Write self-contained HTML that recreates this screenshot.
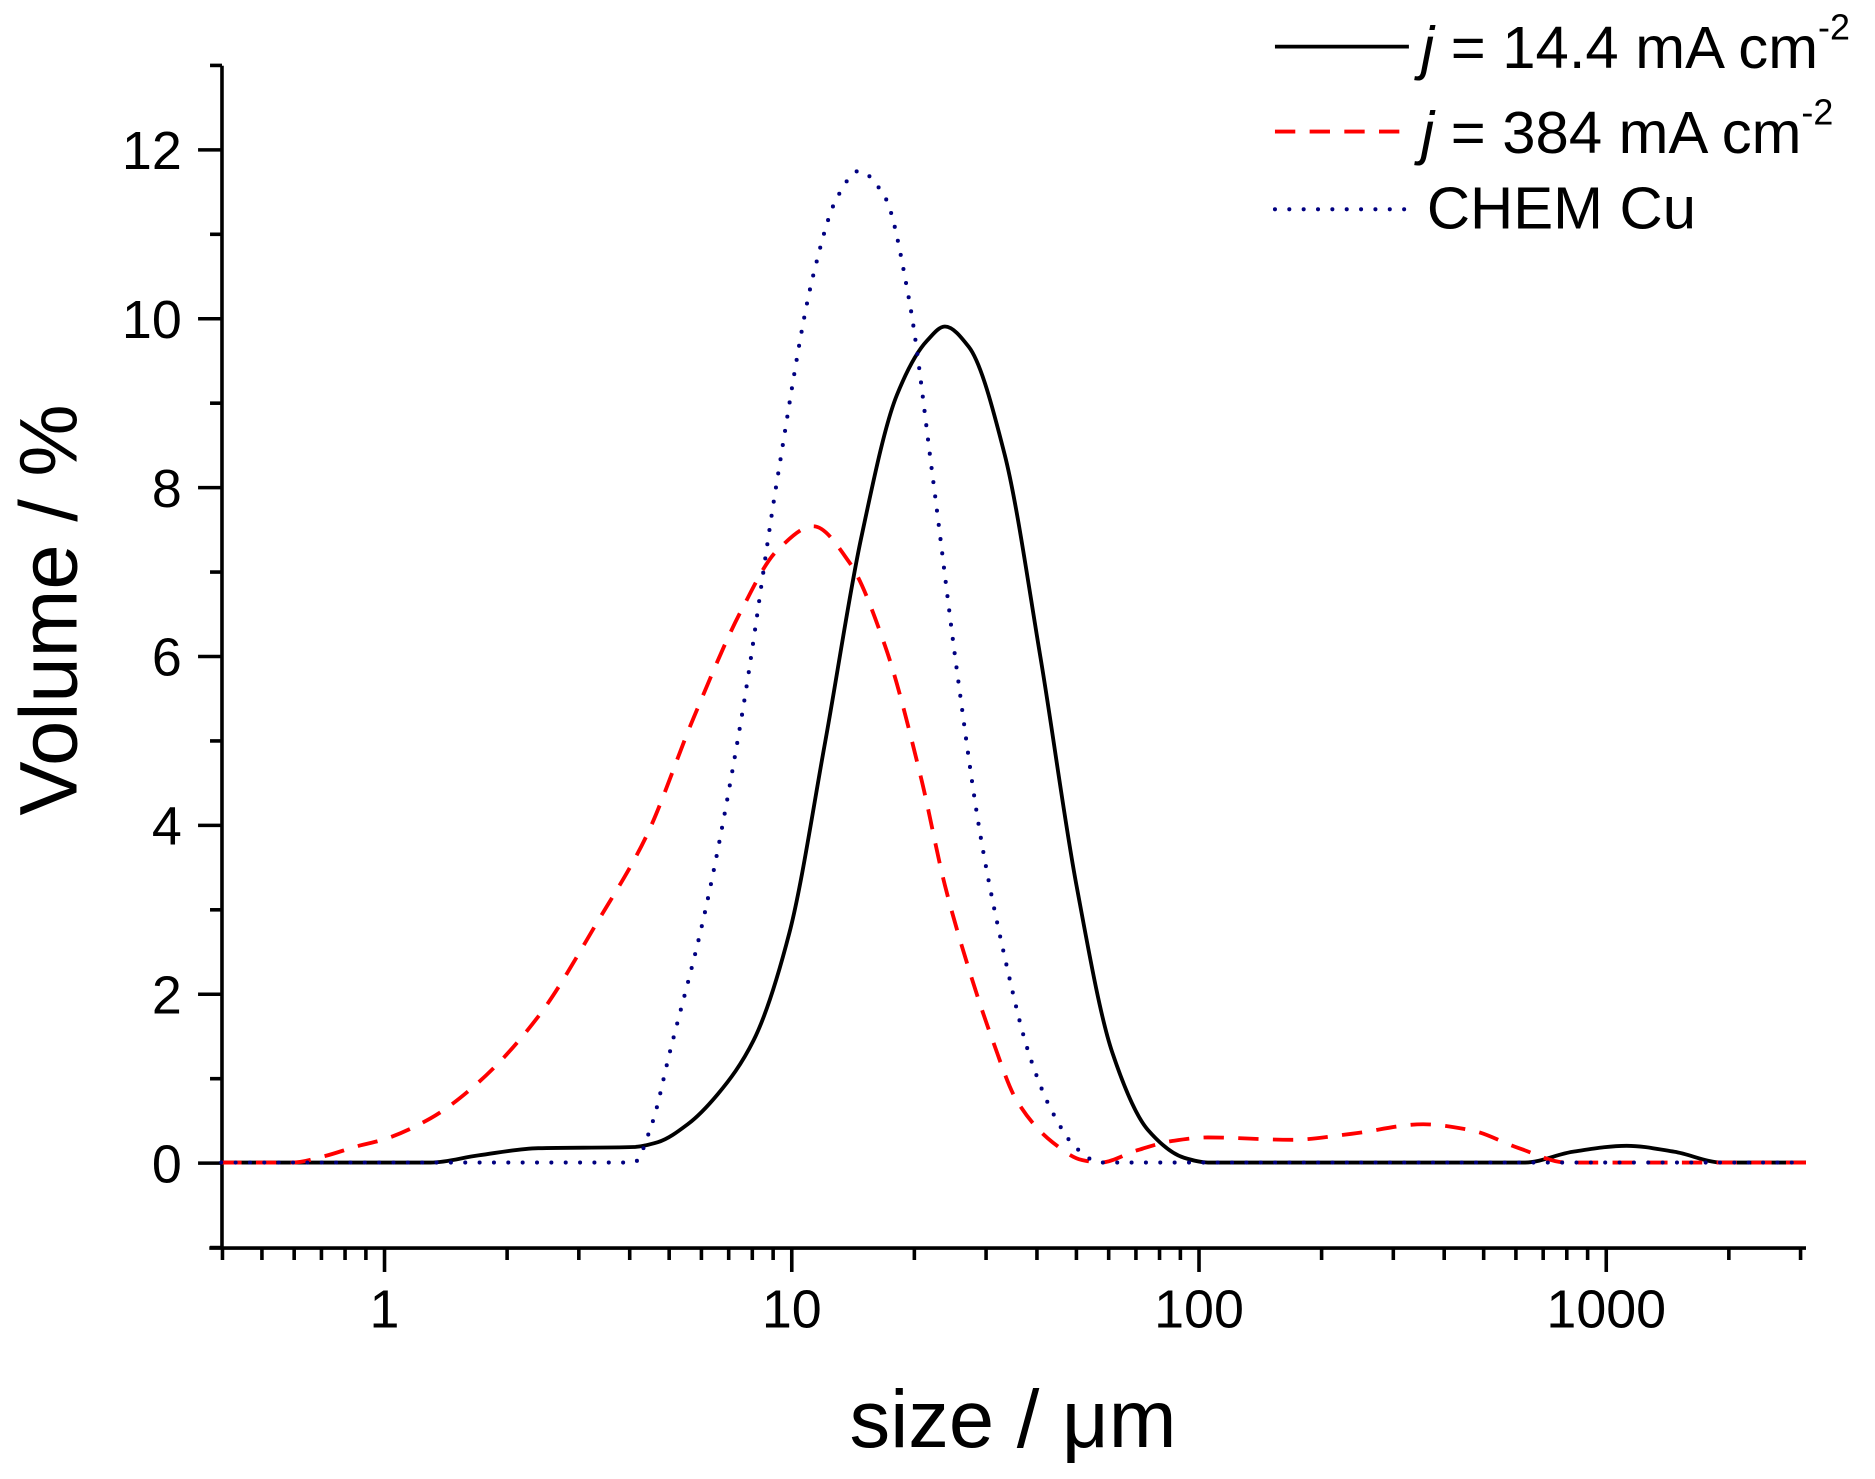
<!DOCTYPE html>
<html><head><meta charset="utf-8"><style>
html,body{margin:0;padding:0;background:#fff;}
svg{display:block;}
text{font-family:"Liberation Sans",Arial,sans-serif;fill:#000;}
</style></head><body>
<svg id="s" width="1875" height="1479" viewBox="0 0 1567.7 1236.6" xmlns="http://www.w3.org/2000/svg">
<g id="axes" stroke="#000" stroke-width="3" fill="none"></g>
<g id="labels"></g>
<path id="blk" fill="none" stroke="#000" stroke-width="3.2"/>
<path id="red" fill="none" stroke="#ff0000" stroke-width="3.2" stroke-dasharray="17 12"/>
<path id="blu" fill="none" stroke="#000080" stroke-width="3.4" stroke-dasharray="0 12" stroke-linecap="round"/>
<text x="847" y="1210" font-size="68" text-anchor="middle">size / μm</text>
<text transform="translate(64,510) rotate(-90)" font-size="68" text-anchor="middle">Volume / %</text>
<line x1="1066" y1="39" x2="1178" y2="39" stroke="#000" stroke-width="3.2"/>
<line x1="1066" y1="110" x2="1178" y2="110" stroke="#ff0000" stroke-width="3.2" stroke-dasharray="17 12"/>
<line x1="1066" y1="175" x2="1178" y2="175" stroke="#000080" stroke-width="3.4" stroke-dasharray="0 12" stroke-linecap="round"/>
<text x="1188" y="57" font-size="50"><tspan font-style="italic">j</tspan> = 14.4 mA cm<tspan font-size="30" dy="-24">-2</tspan></text>
<text x="1188" y="128" font-size="50"><tspan font-style="italic">j</tspan> = 384 mA cm<tspan font-size="30" dy="-24">-2</tspan></text>
<text x="1193" y="191" font-size="50">CHEM Cu</text>
</svg>
<script>
var NS="http://www.w3.org/2000/svg";
var ax=document.getElementById('axes'),lb=document.getElementById('labels');
function L(x1,y1,x2,y2){var l=document.createElementNS(NS,'line');l.setAttribute('x1',x1);l.setAttribute('y1',y1);l.setAttribute('x2',x2);l.setAttribute('y2',y2);ax.appendChild(l);}
function T(x,y,s,a){var t=document.createElementNS(NS,'text');t.setAttribute('x',x);t.setAttribute('y',y);t.setAttribute('font-size',45);t.setAttribute('text-anchor',a);t.textContent=s;lb.appendChild(t);}
var X0=185.6,Y0=972.5,U=70.6,D=340.5,X1=321.5;
function yv(v){return Y0-v*U;}
function xl(lg){return X1+lg*D;}
L(X0,55,X0,1043.5);L(175,1043.5,1510,1043.5);
for(var v=-1;v<=13;v++){var maj=(v%2==0);L(X0-(maj?20:10),yv(v),X0,yv(v));if(maj&&v>=0)T(152,yv(v)+16,String(v),'end');}
for(var e=-1;e<=3;e++)for(var m=1;m<=9;m++){var lg=e+Math.log10(m);var x=xl(lg);if(x<X0-1||x>1511)continue;L(x,1043.5,x,1043.5+(m==1?20:10));if(m==1&&e>=0)T(x,1110,String(Math.pow(10,e)),'middle');}
function path(p){
 var n=p.length,dl=[],m=[];
 for(var i=0;i<n-1;i++)dl.push((p[i+1][1]-p[i][1])/(p[i+1][0]-p[i][0]));
 m[0]=dl[0];m[n-1]=dl[n-2];
 for(var i=1;i<n-1;i++){if(dl[i-1]*dl[i]<=0)m[i]=0;else{var h0=p[i][0]-p[i-1][0],h1=p[i+1][0]-p[i][0];var w1=2*h1+h0,w2=h1+2*h0;m[i]=(w1+w2)/(w1/dl[i-1]+w2/dl[i]);}}
 var d='M'+p[0][0]+','+p[0][1];
 for(var i=0;i<n-1;i++){var h=(p[i+1][0]-p[i][0])/3;d+=' C'+(p[i][0]+h)+','+(p[i][1]+m[i]*h)+' '+(p[i+1][0]-h)+','+(p[i+1][1]-m[i+1]*h)+' '+p[i+1][0]+','+p[i+1][1];}
 return d;}
var blk=[[185,972],[360,972],[400,966],[450,960],[530,959],[550,955],[575,940],[600,915],[630,870],[660,780],[690,620],[720,450],[750,330],[775,285],[790,273],[810,290],[840,380],[870,550],[900,740],[930,880],[960,945],[990,968],[1010,972],[1275,972],[1315,963],[1360,958],[1400,963],[1440,972],[1510,972]];
var red=[[185,972],[245,972],[270,967],[300,958],[320,953],[360,935],[400,905],[450,850],[500,770],[540,700],[580,600],[620,510],[650,460],[680,440],[710,470],[740,540],[770,650],[790,740],[810,810],[830,870],[850,920],[880,955],[905,970],[920,972],[950,962],[980,954],[1010,951],[1080,953],[1130,948],[1190,940],[1230,945],[1270,960],[1310,972],[1510,972]];
var blu=[[185,972],[530,972],[545,940],[560,880],[590,760],[620,600],[650,400],[680,230],[700,165],[718,143],[740,165],[760,250],[780,400],[800,560],[820,700],[840,800],[860,880],[880,930],[900,960],[920,972],[1510,972]];
document.getElementById('blk').setAttribute('d',path(blk));
document.getElementById('red').setAttribute('d',path(red));
document.getElementById('blu').setAttribute('d',path(blu));
</script>
</body></html>
